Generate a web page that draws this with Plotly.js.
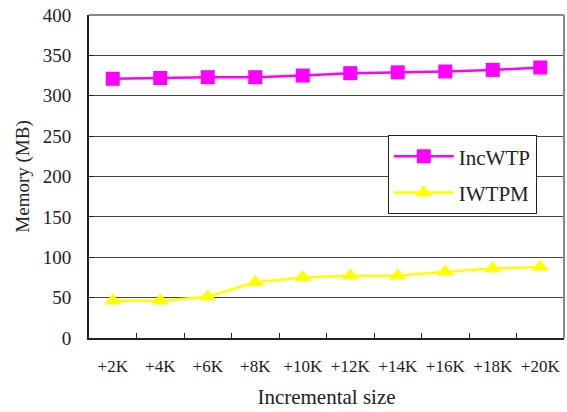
<!DOCTYPE html>
<html><head><meta charset="utf-8">
<script src="https://cdn.plot.ly/plotly-3.0.1.min.js"></script>
<style>html,body{margin:0;padding:0;background:#fff;}</style>
</head><body>
<div id="chart" style="width:567px;height:412px;"></div>
<script>
const categories = ['+2K','+4K','+6K','+8K','+10K','+12K','+14K','+16K','+18K','+20K'];
const incWTP = [321, 322, 323, 323, 325, 328, 329, 330, 332, 335];
const iwtpm = [46, 46, 51, 69, 75, 77, 77, 82, 86, 88];
const seriesNames = ['IncWTP', 'IWTPM'];
const yTicks = [0, 50, 100, 150, 200, 250, 300, 350, 400];

const font = '"Liberation Serif", "Times New Roman", Times, serif';
const traces = [
  {x: categories, y: incWTP, name: seriesNames[0], legendgroup: 'a', type: 'scatter', mode: 'lines+markers',
   line: {color: '#ff00ff', width: 2.5}, marker: {symbol: 'square', size: 14, color: '#ff00ff'}},
  {x: categories, y: iwtpm, name: seriesNames[1], legendgroup: 'b', type: 'scatter', mode: 'lines+markers',
   line: {color: '#ffff00', width: 2.5}, marker: {symbol: 'triangle-up', size: 15, color: '#ffff00'}}
];
const layout = {
  width: 567, height: 412,
  margin: {l: 89, r: 3, t: 15, b: 74},
  paper_bgcolor: '#fff', plot_bgcolor: '#fff',
  font: {family: font, color: '#000', size: 16},
  showlegend: true,
  legend: {x: 0.629, y: 0.628, xanchor: 'left', yanchor: 'top', bordercolor: '#222', borderwidth: 1,
           bgcolor: '#fff', font: {family: font, size: 21, color: '#222'}, tracegroupgap: 6,
           itemwidth: 60},
  xaxis: {type: 'category', range: [-0.5, 9.5], tickson: 'boundaries', ticks: 'inside', ticklen: 5, tickcolor: '#222',
          tickangle: 0, showgrid: false, showline: true, linecolor: '#222', linewidth: 2, zeroline: false,
          tickfont: {family: font, size: 17, color: '#222'}, ticklabelstandoff: 12,
          title: {text: 'Incremental size', font: {family: font, size: 21, color: '#222'}, standoff: 14}},
  yaxis: {range: [0, 400], tickvals: yTicks, ticks: 'inside', ticklen: 5, tickcolor: '#222',
          showgrid: true, gridcolor: '#444', gridwidth: 1, showline: true, linecolor: '#222', linewidth: 2,
          zeroline: false, tickfont: {family: font, size: 19, color: '#222'}, ticklabelstandoff: 12,
          title: {text: 'Memory (MB)', font: {family: font, size: 19, color: '#222'}, standoff: 8}},
  shapes: [
    {type: 'line', xref: 'paper', yref: 'paper', x0: 0, x1: 1, y0: 1, y1: 1, line: {color: '#888', width: 2}},
    {type: 'line', xref: 'paper', yref: 'paper', x0: 1, x1: 1, y0: 0, y1: 1, line: {color: '#888', width: 2}}
  ]
};
Plotly.newPlot('chart', traces, layout, {displayModeBar: false, staticPlot: true});
</script>
</body></html>
